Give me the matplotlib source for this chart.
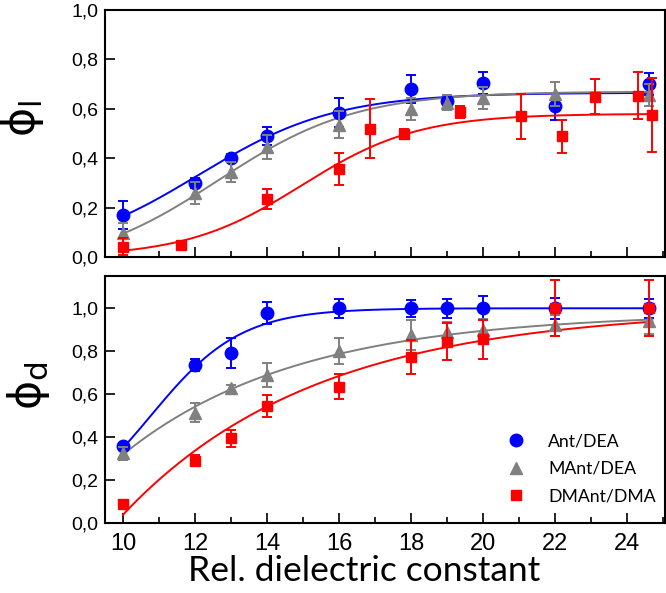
import numpy as np
import matplotlib.pyplot as plt
from matplotlib.ticker import FuncFormatter, MultipleLocator
from matplotlib.lines import Line2D

plt.rcParams['font.family'] = ['Liberation Sans', 'DejaVu Sans']

# relative dielectric constant of the solvent mixtures
eps_ant = [10, 12, 13, 14, 16, 18, 19, 20, 22, 24.6]
eps_mant = [10, 12, 13, 14, 16, 18, 19, 20, 22, 24.6]
eps_dmant_l = [10, 11.6, 14, 16, 16.85, 17.8, 19.35, 21.05, 22.2, 23.1, 24.3, 24.7]
eps_dmant_d = [10, 12, 13, 14, 16, 18, 19, 20, 22, 24.6]

# phi_l (top panel)
phil_ant = [0.17, 0.30, 0.40, 0.49, 0.585, 0.68, 0.63, 0.705, 0.61, 0.70]
phil_ant_err = [0.055, 0.02, 0.015, 0.035, 0.06, 0.055, 0.025, 0.045, 0.055, 0.045]
phil_mant = [0.096, 0.26, 0.345, 0.445, 0.535, 0.60, 0.625, 0.645, 0.66, 0.655]
phil_mant_err = [0.04, 0.045, 0.04, 0.05, 0.055, 0.045, 0.03, 0.045, 0.05, 0.045]
phil_dmant = [0.042, 0.05, 0.235, 0.358, 0.52, 0.497, 0.588, 0.569, 0.488, 0.649, 0.653, 0.576]
phil_dmant_err = [0.035, 0.015, 0.04, 0.065, 0.12, 0.02, 0.025, 0.09, 0.065, 0.07, 0.095, 0.15]

# phi_d (bottom panel)
phid_ant = [0.36, 0.736, 0.794, 0.977, 1.0, 1.0, 1.0, 1.0, 1.0, 1.0]
phid_ant_err = [0.015, 0.03, 0.07, 0.05, 0.045, 0.04, 0.045, 0.055, 0.05, 0.045]
phid_mant = [0.326, 0.515, 0.628, 0.69, 0.80, 0.876, 0.89, 0.90, 0.92, 0.94]
phid_mant_err = [0.03, 0.045, 0.015, 0.055, 0.06, 0.07, 0.045, 0.05, 0.05, 0.06]
phid_dmant = [0.09, 0.291, 0.395, 0.546, 0.636, 0.772, 0.845, 0.856, 1.0, 1.0]
phid_dmant_err = [0.01, 0.025, 0.04, 0.05, 0.06, 0.08, 0.085, 0.09, 0.13, 0.13]

# fit parameters
# Boltzmann: A1, A2, x0, dx
fit_l_ant = [0.0, 0.665, 12.1, 1.9]
fit_l_mant = [-0.05, 0.67, 12.64, 1.91]
fit_l_dmant = [0.0, 0.58, 14.96, 1.61]
fit_d_ant = [0.0, 1.0, 10.77, 1.25]
# exponential rise: A, B, t  (y = A - B*exp(-(x-10)/t))
fit_d_mant = [0.98, 0.66, 4.87]
fit_d_dmant = [1.0, 0.96, 5.38]

names = ['Ant/DEA', 'MAnt/DEA', 'DMAnt/DMA']
colors = ['#0000ff', '#808080', '#ff0000']
markers = ['o', '^', 's']
msizes = [9, 9, 7.5]


def boltzmann(x, p):
    a1, a2, x0, dx = p
    return a2 + (a1 - a2) / (1 + np.exp((x - x0) / dx))


def exprise(x, p):
    a, b, t = p
    return a - b * np.exp(-(x - 10) / t)


def comma(v, pos):
    return ('%.1f' % v).replace('.', ',')


fig = plt.figure(figsize=(6.66, 5.93), dpi=100)
ax1 = fig.add_axes([105 / 666, 1 - 257 / 593, 560 / 666, 247 / 593])
ax2 = fig.add_axes([105 / 666, 1 - 523.3 / 593, 560 / 666, 247.3 / 593])

xs = np.linspace(10, 24.7, 300)

top_sets = [(eps_ant, phil_ant, phil_ant_err, boltzmann(xs, fit_l_ant)),
            (eps_mant, phil_mant, phil_mant_err, boltzmann(xs, fit_l_mant)),
            (eps_dmant_l, phil_dmant, phil_dmant_err, boltzmann(xs, fit_l_dmant))]
bot_sets = [(eps_ant, phid_ant, phid_ant_err, boltzmann(xs, fit_d_ant)),
            (eps_mant, phid_mant, phid_mant_err, exprise(xs, fit_d_mant)),
            (eps_dmant_d, phid_dmant, phid_dmant_err, exprise(xs, fit_d_dmant))]

for ax, sets in [(ax1, top_sets), (ax2, bot_sets)]:
    for i, (x, y, e, fit) in enumerate(sets):
        ax.plot(xs, fit, color=colors[i], lw=1.4, zorder=2 + i)
        ax.errorbar(x, y, yerr=e, fmt=markers[i], color=colors[i],
                    ms=msizes[i], elinewidth=1.4, capsize=3.5, capthick=1.4,
                    zorder=3 + i)
    ax.set_xlim(9.5, 25.05)
    ax.xaxis.set_major_locator(MultipleLocator(2))
    ax.xaxis.set_minor_locator(MultipleLocator(1))
    ax.tick_params(axis='both', which='major', direction='in', length=7, width=1.2)
    ax.tick_params(axis='x', which='minor', direction='in', length=4, width=1.2)
    ax.tick_params(axis='y', labelsize=14, pad=5)
    for s in ax.spines.values():
        s.set_linewidth(1.5)

ax1.set_ylim(0, 1.0)
ax1.set_yticks([0, 0.2, 0.4, 0.6, 0.8, 1.0])
ax1.yaxis.set_major_formatter(FuncFormatter(comma))
ax1.tick_params(axis='x', labelbottom=False)
ax2.set_ylim(0, 1.15)
ax2.set_yticks([0, 0.2, 0.4, 0.6, 0.8, 1.0])
ax2.yaxis.set_major_formatter(FuncFormatter(comma))
ax2.tick_params(axis='x', labelsize=17, pad=7)

ax2.set_xlabel('Rel. dielectric constant', family='Lato', fontsize=25.5, va='top')
ax2.xaxis.set_label_coords(0.4625, -0.128)

fig.text(23 / 666, 1 - 118 / 593, 'ϕ$_\\mathregular{l}$', family='DejaVu Sans',
         rotation=90, ha='center', va='center', fontsize=32)
fig.text(28 / 666, 1 - 386 / 593, 'ϕ$_\\mathregular{d}$', family='DejaVu Sans',
         rotation=90, ha='center', va='center', fontsize=32)

handles = [Line2D([], [], ls='none', marker=markers[i], color=colors[i],
                  ms=msizes[i]) for i in range(3)]
ax2.legend(handles, names, loc='lower right', frameon=False,
           prop={'family': 'Lato', 'size': 12.7}, handletextpad=0.8,
           labelspacing=0.65, bbox_to_anchor=(1.012, 0.012))

fig.savefig('out.png', dpi=100)
